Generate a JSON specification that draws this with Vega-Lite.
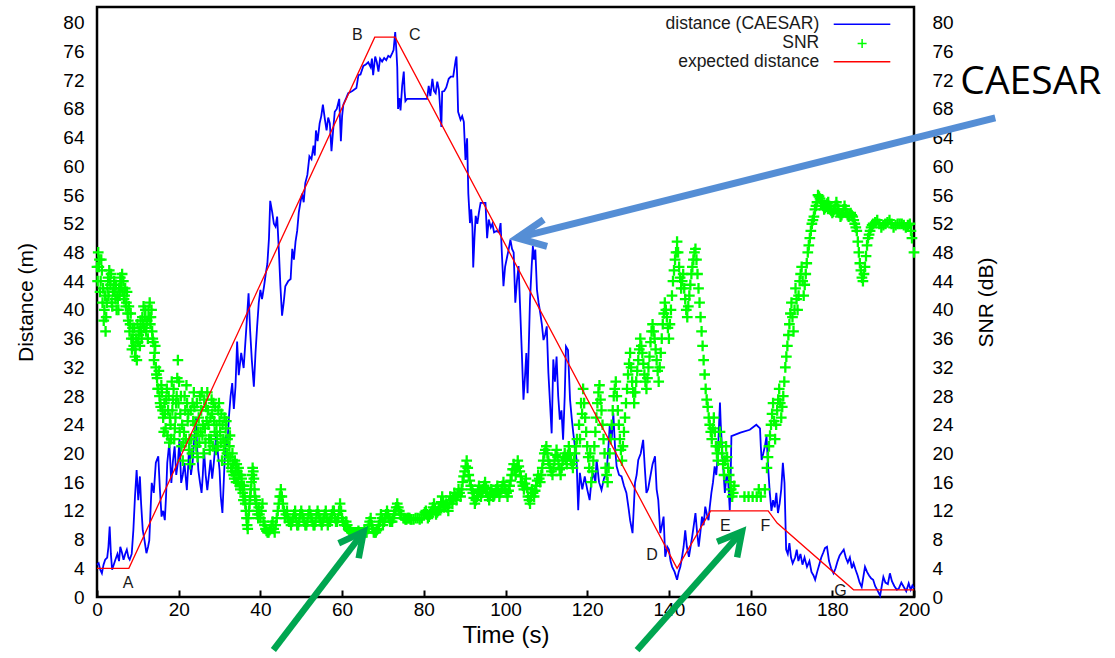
{
"$schema":"https://vega.github.io/schema/vega-lite/v6.json",
"width":817,"height":590,"autosize":"none",
"padding":{"left":97,"top":7,"right":201,"bottom":61},
"background":"white",
"config":{"view":{"stroke":"black","strokeWidth":2.5},"font":"Liberation Sans","text":{"font":"Liberation Sans"}},
"datasets":{
"dist":[{"t":0,"v":4.5},{"t":0.4,"v":4.7},{"t":0.8,"v":3.8},{"t":1.2,"v":3.3},{"t":1.6,"v":4.5},{"t":2.0,"v":5.2},{"t":2.5,"v":5.5},{"t":2.8,"v":7},{"t":3.1,"v":9.8},{"t":3.4,"v":6},{"t":3.7,"v":3.8},{"t":4.1,"v":4.5},{"t":4.5,"v":5.2},{"t":5.0,"v":6},{"t":5.4,"v":5},{"t":5.7,"v":7.0},{"t":6.1,"v":6.2},{"t":6.5,"v":5.2},{"t":6.9,"v":6},{"t":7.3,"v":6.6},{"t":7.7,"v":5.5},{"t":8.0,"v":5.2},{"t":8.5,"v":6},{"t":8.9,"v":9.3},{"t":9.3,"v":14},{"t":9.7,"v":17.7},{"t":10.1,"v":13.5},{"t":10.5,"v":16.8},{"t":10.8,"v":13},{"t":11.2,"v":9.3},{"t":11.6,"v":8},{"t":12.1,"v":6.1},{"t":12.5,"v":7},{"t":12.8,"v":7.9},{"t":13.1,"v":12},{"t":13.4,"v":15.9},{"t":13.9,"v":14.5},{"t":14.4,"v":18.7},{"t":15.0,"v":19.6},{"t":15.4,"v":15},{"t":15.8,"v":11.2},{"t":16.2,"v":12},{"t":16.6,"v":10.7},{"t":16.9,"v":14},{"t":17.2,"v":18.7},{"t":17.7,"v":21.5},{"t":18.2,"v":15.9},{"t":18.6,"v":19},{"t":19.0,"v":21.0},{"t":19.4,"v":17},{"t":19.8,"v":18.7},{"t":20.2,"v":22},{"t":20.6,"v":15.9},{"t":21.0,"v":17},{"t":21.4,"v":18.7},{"t":22.0,"v":14.9},{"t":22.3,"v":18},{"t":22.6,"v":21.5},{"t":23.0,"v":17},{"t":23.4,"v":18.7},{"t":23.8,"v":22},{"t":24.2,"v":25.1},{"t":24.5,"v":21},{"t":24.8,"v":17.7},{"t":25.2,"v":16},{"t":25.6,"v":14.5},{"t":25.9,"v":17},{"t":26.2,"v":20.5},{"t":26.6,"v":17},{"t":27.0,"v":14.9},{"t":27.4,"v":17},{"t":27.8,"v":19.1},{"t":28.2,"v":16.5},{"t":28.6,"v":18.7},{"t":29.2,"v":22.8},{"t":29.6,"v":20},{"t":30.0,"v":17.7},{"t":30.3,"v":14},{"t":30.7,"v":11.7},{"t":31.1,"v":17},{"t":31.5,"v":22.4},{"t":31.9,"v":21},{"t":32.3,"v":25.1},{"t":32.7,"v":28},{"t":33.1,"v":29.8},{"t":33.5,"v":26.2},{"t":33.9,"v":29.3},{"t":34.3,"v":35.6},{"t":34.7,"v":30.9},{"t":35.3,"v":34},{"t":35.9,"v":31.9},{"t":36.5,"v":37},{"t":37.1,"v":42.3},{"t":37.5,"v":37},{"t":37.9,"v":33},{"t":38.4,"v":29.3},{"t":38.8,"v":34},{"t":39.2,"v":37.7},{"t":39.6,"v":41},{"t":40.0,"v":42.8},{"t":40.4,"v":41.5},{"t":40.9,"v":43.3},{"t":41.3,"v":45},{"t":41.7,"v":46.4},{"t":42.1,"v":50},{"t":42.4,"v":55.2},{"t":42.9,"v":53.6},{"t":43.3,"v":52},{"t":43.7,"v":51.6},{"t":44.1,"v":53},{"t":44.5,"v":48.5},{"t":44.9,"v":43.3},{"t":45.3,"v":39.2},{"t":45.7,"v":41},{"t":46.1,"v":43.3},{"t":46.8,"v":44},{"t":47.4,"v":44.3},{"t":47.8,"v":48.5},{"t":48.2,"v":47},{"t":48.6,"v":49.5},{"t":49.0,"v":51},{"t":49.4,"v":53.6},{"t":49.8,"v":55},{"t":50.2,"v":56.2},{"t":50.6,"v":55},{"t":51.0,"v":57.7},{"t":51.5,"v":58.8},{"t":52.0,"v":61.4},{"t":52.5,"v":61},{"t":53.0,"v":62.9},{"t":53.3,"v":61.5},{"t":53.6,"v":65.0},{"t":54.0,"v":63.5},{"t":54.5,"v":66.0},{"t":54.9,"v":67},{"t":55.3,"v":68.6},{"t":55.8,"v":66.5},{"t":56.2,"v":65},{"t":56.6,"v":66.8},{"t":57.0,"v":66},{"t":57.4,"v":62.1},{"t":57.8,"v":65},{"t":58.2,"v":67.6},{"t":58.7,"v":68},{"t":59.3,"v":69.4},{"t":59.7,"v":63.5},{"t":60.0,"v":67},{"t":60.3,"v":68.6},{"t":61.0,"v":69.5},{"t":61.5,"v":70.2},{"t":62.5,"v":70.5},{"t":63.5,"v":70.9},{"t":64.0,"v":72.7},{"t":64.5,"v":72.8},{"t":65.2,"v":74.0},{"t":65.8,"v":74.2},{"t":66.4,"v":74.5},{"t":67.0,"v":73.8},{"t":67.3,"v":75},{"t":67.6,"v":72.7},{"t":68.1,"v":75.3},{"t":68.5,"v":74.5},{"t":68.9,"v":73.2},{"t":69.3,"v":75},{"t":69.8,"v":74.6},{"t":70.3,"v":75.1},{"t":70.8,"v":74.8},{"t":71.3,"v":75.4},{"t":71.8,"v":75.2},{"t":72.3,"v":75.8},{"t":72.6,"v":76.2},{"t":73.0,"v":78.7},{"t":73.3,"v":76},{"t":73.5,"v":73.8},{"t":73.7,"v":68},{"t":74.0,"v":69.5},{"t":74.3,"v":67.8},{"t":74.7,"v":71.2},{"t":75.1,"v":73.2},{"t":75.3,"v":70.5},{"t":75.5,"v":69.1},{"t":75.9,"v":69.4},{"t":80.8,"v":69.4},{"t":81.2,"v":71.2},{"t":81.6,"v":69.8},{"t":82.1,"v":72.2},{"t":82.5,"v":70.5},{"t":82.9,"v":70.2},{"t":83.3,"v":71.8},{"t":83.7,"v":70.7},{"t":84.3,"v":65.5},{"t":84.5,"v":70.4},{"t":85.0,"v":70.5},{"t":85.5,"v":71},{"t":86.1,"v":72.2},{"t":86.6,"v":72.5},{"t":87.2,"v":72.5},{"t":87.8,"v":74.8},{"t":88.0,"v":75.3},{"t":88.2,"v":72},{"t":88.4,"v":67.6},{"t":89.0,"v":66.5},{"t":89.4,"v":67},{"t":89.8,"v":66.2},{"t":90.2,"v":60.9},{"t":90.6,"v":63.9},{"t":90.9,"v":56.2},{"t":91.3,"v":52.1},{"t":91.6,"v":54},{"t":91.9,"v":51.5},{"t":92.1,"v":45.9},{"t":92.4,"v":50},{"t":92.7,"v":53.1},{"t":93.1,"v":52},{"t":93.5,"v":53.6},{"t":93.9,"v":54.9},{"t":94.6,"v":54.9},{"t":95.1,"v":54.9},{"t":95.5,"v":50.0},{"t":95.9,"v":52.6},{"t":96.4,"v":51.5},{"t":96.8,"v":52},{"t":97.2,"v":50.8},{"t":97.8,"v":51},{"t":98.4,"v":50.8},{"t":98.8,"v":52.1},{"t":99.1,"v":48},{"t":99.5,"v":43.3},{"t":99.9,"v":46},{"t":100.4,"v":47.4},{"t":100.8,"v":48.5},{"t":101.2,"v":49.8},{"t":101.6,"v":48.5},{"t":102.0,"v":48},{"t":102.4,"v":41},{"t":102.8,"v":44},{"t":103.2,"v":46.1},{"t":103.6,"v":40},{"t":104.0,"v":34.0},{"t":104.4,"v":27.5},{"t":104.8,"v":31},{"t":105.1,"v":34.0},{"t":105.4,"v":28.4},{"t":105.7,"v":35},{"t":106.0,"v":41.4},{"t":106.4,"v":46},{"t":106.7,"v":48.9},{"t":107.0,"v":47},{"t":107.3,"v":48.4},{"t":107.7,"v":42.8},{"t":108.1,"v":41},{"t":108.5,"v":39.6},{"t":108.9,"v":38},{"t":109.3,"v":35.8},{"t":109.7,"v":36.5},{"t":110.1,"v":37.7},{"t":110.5,"v":31.2},{"t":110.9,"v":27},{"t":111.3,"v":22.8},{"t":111.7,"v":33.1},{"t":112.1,"v":30},{"t":112.5,"v":33.5},{"t":112.9,"v":28},{"t":113.3,"v":24.7},{"t":113.7,"v":26},{"t":114.1,"v":21.9},{"t":114.5,"v":28},{"t":114.8,"v":34.9},{"t":115.3,"v":34.4},{"t":115.8,"v":27.5},{"t":116.2,"v":25},{"t":116.6,"v":22.8},{"t":117.0,"v":21},{"t":117.4,"v":19.1},{"t":117.8,"v":12.1},{"t":118.2,"v":17.3},{"t":118.8,"v":15},{"t":119.4,"v":16.8},{"t":120.0,"v":15},{"t":120.6,"v":13.5},{"t":121.0,"v":16},{"t":121.5,"v":17.3},{"t":122.0,"v":16},{"t":122.3,"v":19.1},{"t":122.9,"v":16},{"t":123.5,"v":14.9},{"t":124.1,"v":16.5},{"t":124.7,"v":17.3},{"t":125.1,"v":20},{"t":125.5,"v":23.8},{"t":126.0,"v":22},{"t":126.4,"v":25.6},{"t":126.8,"v":21},{"t":127.2,"v":18.2},{"t":127.8,"v":17},{"t":128.4,"v":16.8},{"t":129.0,"v":15.5},{"t":129.6,"v":14.5},{"t":130.1,"v":12.5},{"t":130.5,"v":10.7},{"t":131.1,"v":8.9},{"t":131.7,"v":15.9},{"t":132.1,"v":17},{"t":132.5,"v":19.1},{"t":133.1,"v":20},{"t":133.7,"v":21.9},{"t":134.1,"v":18},{"t":134.5,"v":14.5},{"t":134.9,"v":15},{"t":135.3,"v":16.3},{"t":136.0,"v":18.5},{"t":136.6,"v":19.6},{"t":137.0,"v":15},{"t":137.4,"v":13.5},{"t":137.9,"v":8.9},{"t":138.3,"v":10},{"t":138.7,"v":11.2},{"t":139.1,"v":5.6},{"t":139.6,"v":7},{"t":140.0,"v":6.6},{"t":140.4,"v":5},{"t":140.8,"v":4.2},{"t":141.4,"v":3.5},{"t":142.0,"v":2.4},{"t":142.4,"v":3.5},{"t":142.8,"v":4.2},{"t":143.2,"v":5.5},{"t":143.6,"v":7.0},{"t":144.0,"v":9.3},{"t":144.4,"v":7},{"t":144.9,"v":5.6},{"t":145.3,"v":7},{"t":145.7,"v":8.4},{"t":146.1,"v":10},{"t":146.5,"v":11.7},{"t":146.9,"v":9},{"t":147.3,"v":7.0},{"t":147.7,"v":9},{"t":148.1,"v":11.2},{"t":148.5,"v":10},{"t":148.9,"v":12.6},{"t":149.3,"v":11.5},{"t":149.7,"v":10.7},{"t":150.0,"v":12.5},{"t":150.4,"v":14.5},{"t":150.8,"v":16},{"t":151.2,"v":18.2},{"t":151.6,"v":17},{"t":152.0,"v":20.1},{"t":152.2,"v":23},{"t":152.5,"v":27.1},{"t":152.7,"v":24},{"t":152.9,"v":21.9},{"t":153.3,"v":18},{"t":153.7,"v":14.5},{"t":154.1,"v":17},{"t":154.5,"v":16.3},{"t":154.9,"v":12.1},{"t":155.1,"v":16},{"t":155.3,"v":22.4},{"t":157.5,"v":22.9},{"t":159.8,"v":23.3},{"t":161.4,"v":24.0},{"t":162.3,"v":23.5},{"t":162.5,"v":21},{"t":162.7,"v":19.1},{"t":163.1,"v":20},{"t":163.5,"v":21.0},{"t":163.9,"v":22.4},{"t":164.3,"v":18},{"t":164.7,"v":14.5},{"t":165.1,"v":12},{"t":165.5,"v":13.5},{"t":165.9,"v":12.5},{"t":166.3,"v":14.5},{"t":166.7,"v":11.7},{"t":167.1,"v":13},{"t":167.5,"v":15},{"t":167.9,"v":18.7},{"t":168.3,"v":15.9},{"t":168.7,"v":6.6},{"t":169.1,"v":6},{"t":169.5,"v":7.5},{"t":169.9,"v":5.5},{"t":170.3,"v":4.7},{"t":170.9,"v":5.5},{"t":171.3,"v":6.6},{"t":171.7,"v":5},{"t":172.2,"v":6},{"t":172.7,"v":4.5},{"t":173.2,"v":5.5},{"t":173.8,"v":4.2},{"t":174.4,"v":5},{"t":174.9,"v":3.5},{"t":175.4,"v":3},{"t":175.8,"v":2.4},{"t":176.3,"v":3.5},{"t":176.8,"v":4.5},{"t":177.3,"v":5.5},{"t":177.8,"v":6.2},{"t":178.2,"v":6.8},{"t":178.7,"v":7.0},{"t":179.2,"v":5},{"t":179.7,"v":4},{"t":180.3,"v":3.3},{"t":180.8,"v":4},{"t":181.3,"v":5},{"t":181.8,"v":5.8},{"t":182.3,"v":6.2},{"t":182.8,"v":6.6},{"t":183.3,"v":5.5},{"t":183.8,"v":4.8},{"t":184.3,"v":5.5},{"t":184.8,"v":4},{"t":185.2,"v":4.7},{"t":185.7,"v":3.8},{"t":186.2,"v":3},{"t":186.7,"v":2},{"t":187.2,"v":1.4},{"t":187.6,"v":2.8},{"t":188.0,"v":4.2},{"t":188.5,"v":3.5},{"t":189.0,"v":3},{"t":189.5,"v":2.6},{"t":190.0,"v":2.4},{"t":190.5,"v":1.5},{"t":191.0,"v":1},{"t":191.7,"v":0.2},{"t":192.1,"v":1.5},{"t":192.5,"v":2.8},{"t":193.0,"v":2},{"t":193.6,"v":1.8},{"t":194.1,"v":3.3},{"t":194.6,"v":2.2},{"t":195.2,"v":1.5},{"t":195.8,"v":1.0},{"t":196.3,"v":1.2},{"t":196.9,"v":2},{"t":197.5,"v":1.4},{"t":198.1,"v":0.8},{"t":198.7,"v":1.9},{"t":199.2,"v":1.0},{"t":199.6,"v":1.6},{"t":200,"v":1.2}],
"snr":[{"t":0,"v":46},{"t":0.3,"v":48},{"t":0.6,"v":47},{"t":0.9,"v":44},{"t":1.2,"v":45.5},{"t":1.5,"v":43},{"t":1.8,"v":40},{"t":2.1,"v":37},{"t":2.4,"v":41},{"t":2.7,"v":44.5},{"t":3.0,"v":45.5},{"t":3.3,"v":43.5},{"t":3.6,"v":41},{"t":3.9,"v":42.5},{"t":4.2,"v":44},{"t":4.5,"v":41.5},{"t":4.8,"v":40},{"t":5.1,"v":41.5},{"t":5.4,"v":43},{"t":5.7,"v":44.5},{"t":6.0,"v":44},{"t":6.3,"v":42.5},{"t":6.6,"v":41.5},{"t":6.9,"v":43},{"t":7.2,"v":41},{"t":7.5,"v":39.5},{"t":7.8,"v":40.5},{"t":8.1,"v":38},{"t":8.4,"v":36},{"t":8.7,"v":37.5},{"t":9.0,"v":35},{"t":9.3,"v":33.5},{"t":9.6,"v":36},{"t":9.9,"v":38},{"t":10.2,"v":36.5},{"t":10.5,"v":35},{"t":10.8,"v":37},{"t":11.1,"v":39},{"t":11.4,"v":40.5},{"t":11.7,"v":39},{"t":12.0,"v":37},{"t":12.3,"v":38.5},{"t":12.6,"v":40},{"t":12.9,"v":41},{"t":13.2,"v":39},{"t":13.5,"v":37},{"t":13.8,"v":35.5},{"t":14.1,"v":34},{"t":14.4,"v":32},{"t":14.7,"v":30.5},{"t":15.0,"v":29},{"t":15.3,"v":28},{"t":15.6,"v":26.5},{"t":15.9,"v":28.5},{"t":16.2,"v":25},{"t":16.5,"v":27},{"t":16.8,"v":23.5},{"t":17.1,"v":29},{"t":17.4,"v":26},{"t":17.7,"v":21.5},{"t":18.0,"v":24},{"t":18.3,"v":30},{"t":18.6,"v":27.5},{"t":18.9,"v":22},{"t":19.2,"v":25},{"t":19.5,"v":28},{"t":19.8,"v":33},{"t":20.1,"v":30},{"t":20.4,"v":25.5},{"t":20.7,"v":21},{"t":21.0,"v":19},{"t":21.3,"v":23},{"t":21.6,"v":26},{"t":21.9,"v":29.5},{"t":22.2,"v":24.5},{"t":22.5,"v":20.5},{"t":22.8,"v":18.5},{"t":23.1,"v":22},{"t":23.4,"v":27},{"t":23.7,"v":28.5},{"t":24.0,"v":24},{"t":24.3,"v":21},{"t":24.6,"v":19.5},{"t":24.9,"v":25},{"t":25.2,"v":28},{"t":25.5,"v":26},{"t":25.8,"v":22.5},{"t":26.1,"v":20},{"t":26.4,"v":23.5},{"t":26.7,"v":26.5},{"t":27.0,"v":28.5},{"t":27.3,"v":24},{"t":27.6,"v":20.5},{"t":27.9,"v":22},{"t":28.2,"v":25.5},{"t":28.5,"v":27},{"t":28.8,"v":23},{"t":29.1,"v":20.5},{"t":29.4,"v":22.5},{"t":29.7,"v":26},{"t":30.0,"v":24.5},{"t":30.3,"v":21.5},{"t":30.6,"v":19},{"t":30.9,"v":22},{"t":31.2,"v":25},{"t":31.5,"v":23.5},{"t":31.8,"v":20},{"t":32.1,"v":18.5},{"t":32.4,"v":21},{"t":32.7,"v":19.5},{"t":33.0,"v":17.5},{"t":33.3,"v":18.5},{"t":33.6,"v":16.5},{"t":33.9,"v":17.5},{"t":34.2,"v":18.5},{"t":34.5,"v":16},{"t":34.8,"v":17},{"t":35.1,"v":15},{"t":35.4,"v":16.5},{"t":35.7,"v":14.5},{"t":36.0,"v":15.5},{"t":36.3,"v":13},{"t":36.6,"v":11},{"t":36.9,"v":9.5},{"t":37.2,"v":12},{"t":37.5,"v":14},{"t":37.8,"v":16},{"t":38.1,"v":18},{"t":38.4,"v":16.5},{"t":38.7,"v":14},{"t":39.0,"v":13},{"t":39.3,"v":11.5},{"t":39.6,"v":12.5},{"t":40,"v":11},{"t":40.5,"v":13},{"t":41,"v":10},{"t":41.5,"v":9.2},{"t":42,"v":9},{"t":42.5,"v":9.5},{"t":43,"v":10.5},{"t":43.5,"v":9},{"t":44,"v":11},{"t":44.5,"v":13},{"t":45,"v":15},{"t":45.5,"v":13},{"t":46,"v":11},{"t":46.5,"v":12},{"t":47,"v":10.5},{"t":47.5,"v":10},{"t":48,"v":11},{"t":48.5,"v":12},{"t":49,"v":10},{"t":49.5,"v":10.5},{"t":50,"v":12},{"t":50.5,"v":11},{"t":51,"v":10},{"t":51.5,"v":10.5},{"t":52,"v":12},{"t":52.5,"v":11},{"t":53,"v":10},{"t":53.5,"v":10.5},{"t":54,"v":12},{"t":54.5,"v":11},{"t":55,"v":10},{"t":55.5,"v":11},{"t":56,"v":12},{"t":56.5,"v":10},{"t":57,"v":10.5},{"t":57.5,"v":11.5},{"t":58,"v":12},{"t":58.5,"v":10.5},{"t":59,"v":11},{"t":59.5,"v":13},{"t":60,"v":11},{"t":60.5,"v":10},{"t":61,"v":10.5},{"t":61.5,"v":9.5},{"t":62,"v":9.2},{"t":62.5,"v":9},{"t":63,"v":9},{"t":63.5,"v":9},{"t":64,"v":9.2},{"t":64.5,"v":9},{"t":65,"v":9},{"t":65.5,"v":9.2},{"t":66,"v":9},{"t":66.5,"v":10},{"t":67,"v":11},{"t":67.5,"v":9.5},{"t":68,"v":9},{"t":68.5,"v":9.3},{"t":69,"v":10},{"t":69.5,"v":11.5},{"t":70,"v":10},{"t":70.5,"v":11},{"t":71,"v":12},{"t":71.5,"v":11},{"t":72,"v":10.5},{"t":72.5,"v":11},{"t":73,"v":12},{"t":73.5,"v":13},{"t":74,"v":12},{"t":74.5,"v":11.5},{"t":75,"v":11},{"t":75.5,"v":10.8},{"t":76,"v":11},{"t":76.5,"v":11},{"t":77,"v":10.8},{"t":78,"v":11},{"t":79,"v":10.8},{"t":80,"v":11.5},{"t":80.5,"v":12},{"t":81,"v":11},{"t":81.5,"v":11.5},{"t":82,"v":12},{"t":82.5,"v":13},{"t":83,"v":11.5},{"t":83.5,"v":12},{"t":84,"v":12.5},{"t":84.5,"v":14},{"t":85,"v":12.5},{"t":85.5,"v":13},{"t":86,"v":12},{"t":86.5,"v":14},{"t":87,"v":13},{"t":87.5,"v":14.5},{"t":88,"v":13.5},{"t":88.5,"v":15},{"t":89,"v":14},{"t":89.5,"v":16},{"t":90,"v":17.5},{"t":90.5,"v":19},{"t":91,"v":17},{"t":91.5,"v":15.5},{"t":92,"v":14.5},{"t":92.5,"v":13},{"t":93,"v":14},{"t":93.5,"v":15.5},{"t":94,"v":14},{"t":94.5,"v":15},{"t":95,"v":16},{"t":95.5,"v":14.5},{"t":96,"v":13.5},{"t":96.5,"v":15},{"t":97,"v":14},{"t":97.5,"v":14.5},{"t":98,"v":15.5},{"t":98.5,"v":14},{"t":99,"v":15},{"t":99.5,"v":16},{"t":100,"v":15},{"t":100.5,"v":14},{"t":101,"v":15.5},{"t":101.5,"v":17},{"t":102,"v":18.5},{"t":102.5,"v":17},{"t":103,"v":19},{"t":103.5,"v":17.5},{"t":104,"v":16},{"t":104.5,"v":15},{"t":105,"v":16.5},{"t":105.5,"v":14},{"t":106,"v":13},{"t":106.5,"v":15},{"t":107,"v":14},{"t":107.5,"v":15.5},{"t":108,"v":17},{"t":108.5,"v":16},{"t":109,"v":18},{"t":109.5,"v":20},{"t":110,"v":21},{"t":110.5,"v":19},{"t":111,"v":18},{"t":111.5,"v":17},{"t":112,"v":19},{"t":112.5,"v":20.5},{"t":113,"v":18.5},{"t":113.5,"v":17},{"t":114,"v":19},{"t":114.5,"v":20},{"t":115,"v":18.5},{"t":115.5,"v":21},{"t":116,"v":19},{"t":116.5,"v":18},{"t":117,"v":20},{"t":117.5,"v":22},{"t":118,"v":24},{"t":118.5,"v":27},{"t":119,"v":29},{"t":119.5,"v":25},{"t":120,"v":21},{"t":120.5,"v":18},{"t":121,"v":16},{"t":121.5,"v":19},{"t":122,"v":23},{"t":122.5,"v":27},{"t":123,"v":29.5},{"t":123.5,"v":26},{"t":124,"v":22},{"t":124.5,"v":18},{"t":125,"v":16},{"t":125.5,"v":20},{"t":126,"v":24},{"t":126.5,"v":28},{"t":127,"v":30},{"t":127.5,"v":26},{"t":128,"v":22},{"t":128.5,"v":19},{"t":129,"v":23},{"t":129.5,"v":27},{"t":130,"v":31},{"t":130.5,"v":34},{"t":131,"v":30},{"t":131.5,"v":27},{"t":132,"v":30},{"t":132.5,"v":33},{"t":133,"v":36},{"t":133.5,"v":34},{"t":134,"v":31},{"t":134.5,"v":29},{"t":135,"v":32},{"t":135.5,"v":35.5},{"t":136,"v":38},{"t":136.5,"v":36},{"t":137,"v":33},{"t":137.5,"v":30},{"t":138,"v":34},{"t":138.5,"v":38},{"t":139,"v":41},{"t":139.5,"v":39},{"t":140,"v":36},{"t":140.5,"v":40},{"t":141,"v":44},{"t":141.5,"v":47},{"t":142,"v":49.5},{"t":142.5,"v":46},{"t":143,"v":43},{"t":143.5,"v":45},{"t":144,"v":41.5},{"t":144.5,"v":39},{"t":145,"v":42},{"t":145.5,"v":45},{"t":146,"v":47},{"t":146.5,"v":48.5},{"t":147,"v":45},{"t":147.5,"v":41},{"t":148,"v":37},{"t":148.5,"v":33},{"t":149,"v":29},{"t":149.5,"v":26.5},{"t":150,"v":24},{"t":150.5,"v":22},{"t":151,"v":25},{"t":151.5,"v":21},{"t":152,"v":19},{"t":152.5,"v":23},{"t":153,"v":20},{"t":153.5,"v":17},{"t":154,"v":21},{"t":154.5,"v":18},{"t":155,"v":16},{"t":155.5,"v":14},{"t":156,"v":15.5},{"t":158.5,"v":14},{"t":159.5,"v":14},{"t":160.5,"v":14},{"t":161.5,"v":14},{"t":162,"v":15},{"t":162.5,"v":14},{"t":163.5,"v":15},{"t":164,"v":18},{"t":164.5,"v":21},{"t":165,"v":24},{"t":165.5,"v":27},{"t":166,"v":22},{"t":166.5,"v":26},{"t":167,"v":29},{"t":167.5,"v":25},{"t":168,"v":28},{"t":168.5,"v":32},{"t":169,"v":35},{"t":169.5,"v":38},{"t":170,"v":41},{"t":170.5,"v":37},{"t":171,"v":43},{"t":171.5,"v":40},{"t":172,"v":44},{"t":172.5,"v":46},{"t":173,"v":42},{"t":173.5,"v":45},{"t":174,"v":48},{"t":174.5,"v":50},{"t":175,"v":52},{"t":175.5,"v":53},{"t":176,"v":54.5},{"t":176.5,"v":56},{"t":177,"v":55.5},{"t":177.5,"v":55},{"t":178,"v":54},{"t":178.5,"v":54.5},{"t":179,"v":55},{"t":179.5,"v":54},{"t":180,"v":53.5},{"t":180.5,"v":54},{"t":181,"v":55},{"t":181.5,"v":54},{"t":182,"v":53},{"t":182.5,"v":53.5},{"t":183,"v":54.5},{"t":183.5,"v":53.5},{"t":184,"v":53},{"t":184.5,"v":53.5},{"t":185,"v":53},{"t":185.5,"v":52},{"t":186,"v":51},{"t":186.5,"v":48},{"t":187,"v":45.5},{"t":187.5,"v":44},{"t":188,"v":46},{"t":188.5,"v":49},{"t":189,"v":50.5},{"t":189.5,"v":51.5},{"t":190,"v":52},{"t":191,"v":52.5},{"t":192,"v":51.5},{"t":193,"v":52},{"t":194,"v":52.5},{"t":195,"v":51.5},{"t":196,"v":52},{"t":197,"v":52},{"t":198,"v":51.5},{"t":199,"v":52},{"t":199.5,"v":50},{"t":200,"v":48},
{"t":0.15,"v":44},{"t":0.45,"v":46},{"t":0.75,"v":42.5},{"t":1.05,"v":47},{"t":1.35,"v":41},{"t":1.65,"v":38.5},{"t":1.95,"v":42},{"t":2.25,"v":39},{"t":2.55,"v":43},{"t":2.85,"v":42},{"t":3.15,"v":44},{"t":3.45,"v":45},{"t":3.75,"v":40.5},{"t":4.05,"v":43},{"t":4.35,"v":42.5},{"t":4.65,"v":43.5},{"t":4.95,"v":42},{"t":5.25,"v":40},{"t":5.55,"v":42},{"t":5.85,"v":43},{"t":6.15,"v":45},{"t":6.45,"v":44},{"t":6.75,"v":42},{"t":7.05,"v":40.5},{"t":7.35,"v":42.5},{"t":7.65,"v":38.5},{"t":7.95,"v":37},{"t":8.25,"v":39.5},{"t":8.55,"v":34.5},{"t":8.85,"v":36},{"t":9.15,"v":37.5},{"t":9.45,"v":34.5},{"t":9.75,"v":33},{"t":10.05,"v":35.5},{"t":10.35,"v":37},{"t":10.65,"v":38.5},{"t":10.95,"v":36},{"t":11.25,"v":38},{"t":11.55,"v":37.5},{"t":11.85,"v":40},{"t":12.15,"v":38},{"t":12.45,"v":36},{"t":12.75,"v":39},{"t":13.05,"v":38},{"t":13.35,"v":40},{"t":13.65,"v":36},{"t":13.95,"v":33},{"t":14.25,"v":35},{"t":14.55,"v":31},{"t":14.85,"v":29},{"t":15.15,"v":31.5},{"t":15.45,"v":27},{"t":15.75,"v":29.5},{"t":16.05,"v":26},{"t":16.35,"v":23},{"t":16.65,"v":25.5},{"t":16.95,"v":27.5},{"t":17.25,"v":22.5},{"t":17.55,"v":28},{"t":17.85,"v":25},{"t":18.15,"v":22},{"t":18.45,"v":26},{"t":18.75,"v":29},{"t":19.05,"v":23.5},{"t":19.35,"v":27},{"t":19.65,"v":30.5},{"t":19.95,"v":27},{"t":20.25,"v":23},{"t":20.55,"v":28},{"t":20.85,"v":24},{"t":21.15,"v":21.5},{"t":21.45,"v":28},{"t":21.75,"v":22},{"t":22.05,"v":27},{"t":22.35,"v":25.5},{"t":22.65,"v":22},{"t":22.95,"v":26},{"t":23.25,"v":20},{"t":23.55,"v":24.5},{"t":23.85,"v":26.5},{"t":24.15,"v":22.5},{"t":24.45,"v":27},{"t":24.75,"v":23},{"t":25.05,"v":21.5},{"t":25.35,"v":23},{"t":25.65,"v":28.5},{"t":25.95,"v":24},{"t":26.25,"v":27.5},{"t":26.55,"v":21.5},{"t":26.85,"v":24.5},{"t":27.15,"v":26},{"t":27.45,"v":22},{"t":27.75,"v":25},{"t":28.05,"v":27.5},{"t":28.35,"v":21},{"t":28.65,"v":24.5},{"t":28.95,"v":26.5},{"t":29.25,"v":24},{"t":29.55,"v":21},{"t":29.85,"v":27},{"t":30.15,"v":23},{"t":30.45,"v":25.5},{"t":30.75,"v":24},{"t":31.05,"v":20.5},{"t":31.35,"v":21.5},{"t":31.65,"v":24.5},{"t":31.95,"v":22},{"t":32.25,"v":19.5},{"t":32.55,"v":22.5},{"t":32.85,"v":18},{"t":33.15,"v":20},{"t":33.45,"v":17},{"t":33.75,"v":19},{"t":34.05,"v":16},{"t":34.35,"v":17.5},{"t":34.65,"v":18},{"t":34.95,"v":15.5},{"t":35.25,"v":17},{"t":35.55,"v":15.5},{"t":35.85,"v":13.5},{"t":36.15,"v":14},{"t":36.45,"v":12},{"t":36.75,"v":10},{"t":37.05,"v":11},{"t":37.35,"v":13},{"t":37.65,"v":15},{"t":37.95,"v":17},{"t":38.25,"v":17.5},{"t":38.55,"v":15},{"t":38.85,"v":13.5},{"t":39.15,"v":12},{"t":39.45,"v":11},{"t":39.75,"v":11.5},{"t":40.25,"v":12},{"t":40.75,"v":10.5},{"t":41.25,"v":9.5},{"t":41.75,"v":9},{"t":42.25,"v":9.3},{"t":42.75,"v":10},{"t":43.25,"v":9.5},{"t":43.75,"v":10},{"t":44.25,"v":12},{"t":44.75,"v":14},{"t":45.25,"v":14},{"t":45.75,"v":12},{"t":46.25,"v":11.5},{"t":46.75,"v":11},{"t":47.25,"v":10.5},{"t":47.75,"v":10.5},{"t":48.25,"v":11.5},{"t":48.75,"v":11},{"t":49.25,"v":10},{"t":49.75,"v":11.5},{"t":50.25,"v":11.5},{"t":50.75,"v":10.5},{"t":51.25,"v":10},{"t":51.75,"v":11.5},{"t":52.25,"v":11.5},{"t":52.75,"v":10.5},{"t":53.25,"v":10},{"t":53.75,"v":11.5},{"t":54.25,"v":11.5},{"t":54.75,"v":10.5},{"t":55.25,"v":10.5},{"t":55.75,"v":11.5},{"t":56.25,"v":11},{"t":56.75,"v":10.5},{"t":57.25,"v":11},{"t":57.75,"v":12},{"t":58.25,"v":11},{"t":58.75,"v":10.5},{"t":59.25,"v":12},{"t":59.75,"v":12},{"t":60.25,"v":10.5},{"t":60.75,"v":10},{"t":61.25,"v":10},{"t":61.75,"v":9.3},{"t":62.25,"v":9},{"t":62.75,"v":9},{"t":63.25,"v":9},{"t":63.75,"v":9},{"t":64.25,"v":9},{"t":64.75,"v":9},{"t":65.25,"v":9},{"t":65.75,"v":9},{"t":66.25,"v":9.5},{"t":66.75,"v":10.5},{"t":67.25,"v":10},{"t":67.75,"v":9},{"t":68.25,"v":9},{"t":68.75,"v":9.5},{"t":69.25,"v":10.5},{"t":69.75,"v":11},{"t":70.25,"v":10.5},{"t":70.75,"v":11.5},{"t":71.25,"v":11.5},{"t":71.75,"v":10.5},{"t":72.25,"v":10.5},{"t":72.75,"v":11.5},{"t":73.25,"v":12.5},{"t":73.75,"v":12.5},{"t":74.25,"v":11.5},
{"t":75.25,"v":11},{"t":75.75,"v":10.8},{"t":76.25,"v":11},{"t":76.75,"v":10.8},{"t":77.5,"v":10.8},{"t":78.5,"v":11},{"t":79.5,"v":11},{"t":80.25,"v":11.8},{"t":80.75,"v":11.5},{"t":81.25,"v":11.2},{"t":81.75,"v":11.8},{"t":82.25,"v":12.5},{"t":82.75,"v":12.2},{"t":83.25,"v":11.8},{"t":83.75,"v":12.2},{"t":84.25,"v":13.2},{"t":84.75,"v":13.2},{"t":85.25,"v":12.8},{"t":85.75,"v":12.5},{"t":86.25,"v":13},{"t":86.75,"v":13.5},{"t":87.25,"v":13.8},{"t":87.75,"v":14},{"t":88.25,"v":14.2},{"t":88.75,"v":14.5},{"t":89.25,"v":15},{"t":89.75,"v":16.8},{"t":90.25,"v":18.2},{"t":90.75,"v":18},{"t":91.25,"v":16.2},{"t":91.75,"v":15},{"t":92.25,"v":13.8},{"t":92.75,"v":13.5},{"t":93.25,"v":14.8},{"t":93.75,"v":14.8},{"t":94.25,"v":14.5},{"t":94.75,"v":15.5},{"t":95.25,"v":15.2},{"t":95.75,"v":14},{"t":96.25,"v":14.2},{"t":96.75,"v":14.5},{"t":97.25,"v":14.2},{"t":97.75,"v":15},{"t":98.25,"v":14.8},{"t":98.75,"v":14.5},{"t":99.25,"v":15.5},{"t":99.75,"v":15.5},{"t":100.25,"v":14.5},{"t":100.75,"v":14.8},{"t":101.25,"v":16.2},{"t":101.75,"v":17.8},{"t":102.25,"v":17.8},{"t":102.75,"v":18},{"t":103.25,"v":18.2},{"t":103.75,"v":16.8},{"t":104.25,"v":15.5},{"t":104.75,"v":15.8},{"t":105.25,"v":15.2},{"t":105.75,"v":13.5},{"t":106.25,"v":14},{"t":106.75,"v":14.5},{"t":107.25,"v":14.8},{"t":107.75,"v":16.2},{"t":108.25,"v":16.5},{"t":108.75,"v":17},{"t":109.25,"v":19},{"t":109.75,"v":20.5},{"t":110.25,"v":20},{"t":110.75,"v":18.5},{"t":111.25,"v":17.5},{"t":111.75,"v":18},{"t":112.25,"v":19.8},{"t":112.75,"v":19.5},{"t":113.25,"v":17.8},{"t":113.75,"v":18},{"t":114.25,"v":19.5},{"t":114.75,"v":19.2},{"t":115.25,"v":19.8},{"t":115.75,"v":20},{"t":116.25,"v":18.5},{"t":116.75,"v":19},{"t":117.25,"v":21},
{"t":118.25,"v":22},{"t":118.75,"v":25.5},{"t":119.25,"v":27},{"t":119.75,"v":23},{"t":120.25,"v":19.5},{"t":120.75,"v":20},{"t":121.25,"v":17.5},{"t":121.75,"v":21},{"t":122.25,"v":25},{"t":122.75,"v":28.5},{"t":123.25,"v":27.5},{"t":123.75,"v":24},{"t":124.25,"v":20},{"t":124.75,"v":17},{"t":125.25,"v":18},{"t":125.75,"v":22},{"t":126.25,"v":26},{"t":126.75,"v":29},{"t":127.25,"v":28},{"t":127.75,"v":24},{"t":128.25,"v":20.5},{"t":128.75,"v":21},{"t":129.25,"v":25},{"t":129.75,"v":29},{"t":130.25,"v":32.5},{"t":130.75,"v":32},{"t":131.25,"v":28.5},{"t":131.75,"v":28.5},{"t":132.25,"v":31.5},{"t":132.75,"v":34.5},{"t":133.25,"v":35},{"t":133.75,"v":32.5},{"t":134.25,"v":30},{"t":134.75,"v":30.5},{"t":135.25,"v":33.5},{"t":135.75,"v":37},{"t":136.25,"v":37},{"t":136.75,"v":34.5},{"t":137.25,"v":31.5},{"t":137.75,"v":32},{"t":138.25,"v":36},{"t":138.75,"v":39.5},{"t":139.25,"v":40},{"t":139.75,"v":37.5},{"t":140.25,"v":38},{"t":140.75,"v":42},{"t":141.25,"v":45.5},{"t":141.75,"v":48},{"t":142.25,"v":48},{"t":142.75,"v":44.5},{"t":143.25,"v":44},{"t":143.75,"v":43},{"t":144.25,"v":40},{"t":144.75,"v":40.5},{"t":145.25,"v":43.5},{"t":145.75,"v":46},{"t":146.25,"v":48},{"t":146.75,"v":47},{"t":147.25,"v":43},{"t":147.75,"v":39},{"t":148.25,"v":35},{"t":148.75,"v":31},{"t":149.25,"v":27.5},{"t":149.75,"v":25},{"t":150.25,"v":23},{"t":150.75,"v":23.5},{"t":151.25,"v":23},{"t":151.75,"v":20},{"t":152.25,"v":21},{"t":152.75,"v":21.5},{"t":153.25,"v":18.5},{"t":153.75,"v":19},{"t":154.25,"v":19.5},{"t":154.75,"v":17},{"t":155.25,"v":15},{"t":155.75,"v":14.5},{"t":164.25,"v":19.5},{"t":164.75,"v":22.5},{"t":165.25,"v":25.5},{"t":165.75,"v":24.5},{"t":166.25,"v":24},{"t":166.75,"v":27.5},{"t":167.25,"v":27},{"t":167.75,"v":26.5},{"t":168.25,"v":30},{"t":168.75,"v":33.5},{"t":169.25,"v":36.5},{"t":169.75,"v":39.5},{"t":170.25,"v":39},{"t":170.75,"v":40},{"t":171.25,"v":41.5},{"t":171.75,"v":42},{"t":172.25,"v":45},{"t":172.75,"v":44},{"t":173.25,"v":43.5},{"t":173.75,"v":46.5},{"t":174.25,"v":49},{"t":174.75,"v":51},{"t":175.25,"v":52.5},{"t":175.75,"v":54},{"t":176.25,"v":55},{"t":176.75,"v":55.8},{"t":177.25,"v":55.2},{"t":177.75,"v":54.5},{"t":178.25,"v":54.2},{"t":178.75,"v":54.8},{"t":179.25,"v":54.5},{"t":179.75,"v":53.8},{"t":180.25,"v":53.7},{"t":180.75,"v":54.5},{"t":181.25,"v":54.5},{"t":181.75,"v":53.5},{"t":182.25,"v":53.2},{"t":182.75,"v":54},{"t":183.25,"v":54},{"t":183.75,"v":53.2},{"t":184.25,"v":53.2},{"t":184.75,"v":53.2},{"t":185.25,"v":52.5},{"t":185.75,"v":51.5},{"t":186.25,"v":49.5},{"t":186.75,"v":46.5},{"t":187.25,"v":44.5},{"t":187.75,"v":45},{"t":188.25,"v":47.5},{"t":188.75,"v":50},{"t":189.25,"v":51},{"t":189.75,"v":51.8},{"t":190.5,"v":52.2},{"t":191.5,"v":52},{"t":192.5,"v":51.8},{"t":193.5,"v":52.2},{"t":194.5,"v":52},{"t":195.5,"v":51.8},{"t":196.5,"v":52},{"t":197.5,"v":51.8},{"t":198.5,"v":51.8},{"t":199.25,"v":51}],
"expected":[{"t":0,"v":4},{"t":7.8,"v":4},{"t":68,"v":78},{"t":73,"v":78},{"t":142,"v":4},{"t":150.2,"v":12},{"t":164.3,"v":12},{"t":166.5,"v":10.3},{"t":185.2,"v":1},{"t":200,"v":1}],
"points":[{"t":7.6,"v":1.95,"lab":"A"},{"t":63.7,"v":78.24,"lab":"B"},{"t":77.8,"v":78.24,"lab":"C"},{"t":135.9,"v":5.86,"lab":"D"},{"t":153.8,"v":9.94,"lab":"E"},{"t":163.6,"v":9.94,"lab":"F"},{"t":182.0,"v":0.88,"lab":"G"}],
"legtext":[{"t":176.8,"v":79.78,"lab":"distance (CAESAR)"},{"t":176.8,"v":77.13,"lab":"SNR"},{"t":176.8,"v":74.57,"lab":"expected distance"}],
"legblue":[{"t":180.35,"v":79.78},{"t":194.2,"v":79.78}],
"legred":[{"t":180.35,"v":74.57},{"t":194.2,"v":74.57}],
"legsnr":[{"t":187.3,"v":77.13}],
"bluearrow":[{"g":"s","o":1,"t":219.9,"v":66.76},{"g":"s","o":2,"t":102.84,"v":50.03},{"g":"h","o":1,"t":109.35,"v":52.58},{"g":"h","o":2,"t":102.84,"v":50.03},{"g":"h","o":3,"t":110.18,"v":48.86}],
"greenarrows":[{"g":"a1s","o":1,"t":43.18,"v":-7.39},{"g":"a1s","o":2,"t":65.29,"v":9.11},{"g":"a1h","o":1,"t":59.17,"v":7.49},{"g":"a1h","o":2,"t":65.29,"v":9.11},{"g":"a1h","o":3,"t":64.06,"v":5.4},{"g":"a2s","o":1,"t":132.2,"v":-7.39},{"g":"a2s","o":2,"t":157.9,"v":9.11},{"g":"a2h","o":1,"t":151.8,"v":7.71},{"g":"a2h","o":2,"t":157.9,"v":9.11},{"g":"a2h","o":3,"t":156.7,"v":5.53}],
"caesar":[{"t":211.35,"v":71.7,"lab":"CAESAR"}]
},
"resolve":{"scale":{"y":"independent"},"axis":{"x":"independent"}},
"layer":[
{"data":{"name":"dist"},"mark":{"type":"line","color":"#0000ff","strokeWidth":1.8},
 "encoding":{
  "x":{"field":"t","type":"quantitative","scale":{"domain":[0,200],"nice":false,"zero":false},
   "axis":{"title":"Time (s)","values":[0,20,40,60,80,100,120,140,160,180,200],"domain":false,"grid":false,"ticks":true,"tickSize":-7,"tickWidth":2,"tickColor":"black","labelFontSize":19,"labelColor":"black","labelPadding":10,"titleFontSize":24,"titleFontWeight":"normal","titleColor":"black","titlePadding":4,"labelFlush":false}},
  "y":{"field":"v","type":"quantitative","scale":{"domain":[0,82.2],"nice":false,"zero":false},
   "axis":{"title":"Distance (m)","values":[0,4,8,12,16,20,24,28,32,36,40,44,48,52,56,60,64,68,72,76,80],"domain":false,"grid":false,"ticks":false,"labelFontSize":19,"labelColor":"black","labelPadding":13,"titleFontSize":21,"titleFontWeight":"normal","titleColor":"black","titlePadding":26,"labelFlush":false}}}},
{"data":{"name":"snr"},"mark":{"type":"point","shape":"M-1,0H1M0,-1V1","size":115,"filled":false,"stroke":"#00ff00","strokeWidth":2.3,"opacity":1},
 "encoding":{
  "x":{"field":"t","type":"quantitative","axis":null},
  "y":{"field":"v","type":"quantitative","scale":{"domain":[0,82.2],"nice":false,"zero":false},
   "axis":{"orient":"right","title":"SNR (dB)","values":[0,4,8,12,16,20,24,28,32,36,40,44,48,52,56,60,64,68,72,76,80],"domain":false,"grid":false,"ticks":false,"labelFontSize":19,"labelColor":"black","labelPadding":18,"titleFontSize":21,"titleFontWeight":"normal","titleColor":"black","titlePadding":22,"titleAngle":270,"titleBaseline":"top","labelFlush":false}}}},
{"data":{"name":"expected"},"mark":{"type":"line","color":"#ff0000","strokeWidth":1.3},
 "encoding":{"x":{"field":"t","type":"quantitative","axis":null},"y":{"field":"v","type":"quantitative","scale":{"domain":[0,82.2],"nice":false,"zero":false},"axis":null}}},
{"data":{"name":"points"},"mark":{"type":"text","fontSize":16,"color":"#1a1a1a","align":"center","baseline":"middle"},
 "encoding":{"x":{"field":"t","type":"quantitative","axis":null},"y":{"field":"v","type":"quantitative","scale":{"domain":[0,82.2],"nice":false,"zero":false},"axis":null},"text":{"field":"lab"}}},
{"data":{"name":"legtext"},"mark":{"type":"text","fontSize":17.5,"color":"#1a1a1a","align":"right","baseline":"middle"},
 "encoding":{"x":{"field":"t","type":"quantitative","axis":null},"y":{"field":"v","type":"quantitative","scale":{"domain":[0,82.2],"nice":false,"zero":false},"axis":null},"text":{"field":"lab"}}},
{"data":{"name":"legblue"},"mark":{"type":"line","color":"#0000ff","strokeWidth":1.5},
 "encoding":{"x":{"field":"t","type":"quantitative","axis":null},"y":{"field":"v","type":"quantitative","scale":{"domain":[0,82.2],"nice":false,"zero":false},"axis":null}}},
{"data":{"name":"legred"},"mark":{"type":"line","color":"#ff0000","strokeWidth":1.3},
 "encoding":{"x":{"field":"t","type":"quantitative","axis":null},"y":{"field":"v","type":"quantitative","scale":{"domain":[0,82.2],"nice":false,"zero":false},"axis":null}}},
{"data":{"name":"legsnr"},"mark":{"type":"point","shape":"M-1,0H1M0,-1V1","size":81,"filled":false,"stroke":"#00ff00","strokeWidth":1.5,"opacity":1},
 "encoding":{"x":{"field":"t","type":"quantitative","axis":null},"y":{"field":"v","type":"quantitative","scale":{"domain":[0,82.2],"nice":false,"zero":false},"axis":null}}},
{"data":{"name":"bluearrow"},"mark":{"type":"line","color":"#558ED5","strokeWidth":7,"strokeCap":"butt","strokeJoin":"miter"},
 "encoding":{"x":{"field":"t","type":"quantitative","axis":null},"y":{"field":"v","type":"quantitative","scale":{"domain":[0,82.2],"nice":false,"zero":false},"axis":null},"detail":{"field":"g"},"order":{"field":"o"}}},
{"data":{"name":"greenarrows"},"mark":{"type":"line","color":"#00A650","strokeWidth":6.5,"strokeCap":"butt","strokeJoin":"miter"},
 "encoding":{"x":{"field":"t","type":"quantitative","axis":null},"y":{"field":"v","type":"quantitative","scale":{"domain":[0,82.2],"nice":false,"zero":false},"axis":null},"detail":{"field":"g"},"order":{"field":"o"}}},
{"data":{"name":"caesar"},"mark":{"type":"text","font":"Open Sans","fontSize":39,"color":"black","align":"left","baseline":"middle"},
 "encoding":{"x":{"field":"t","type":"quantitative","axis":null},"y":{"field":"v","type":"quantitative","scale":{"domain":[0,82.2],"nice":false,"zero":false},"axis":null},"text":{"field":"lab"}}}
]
}
